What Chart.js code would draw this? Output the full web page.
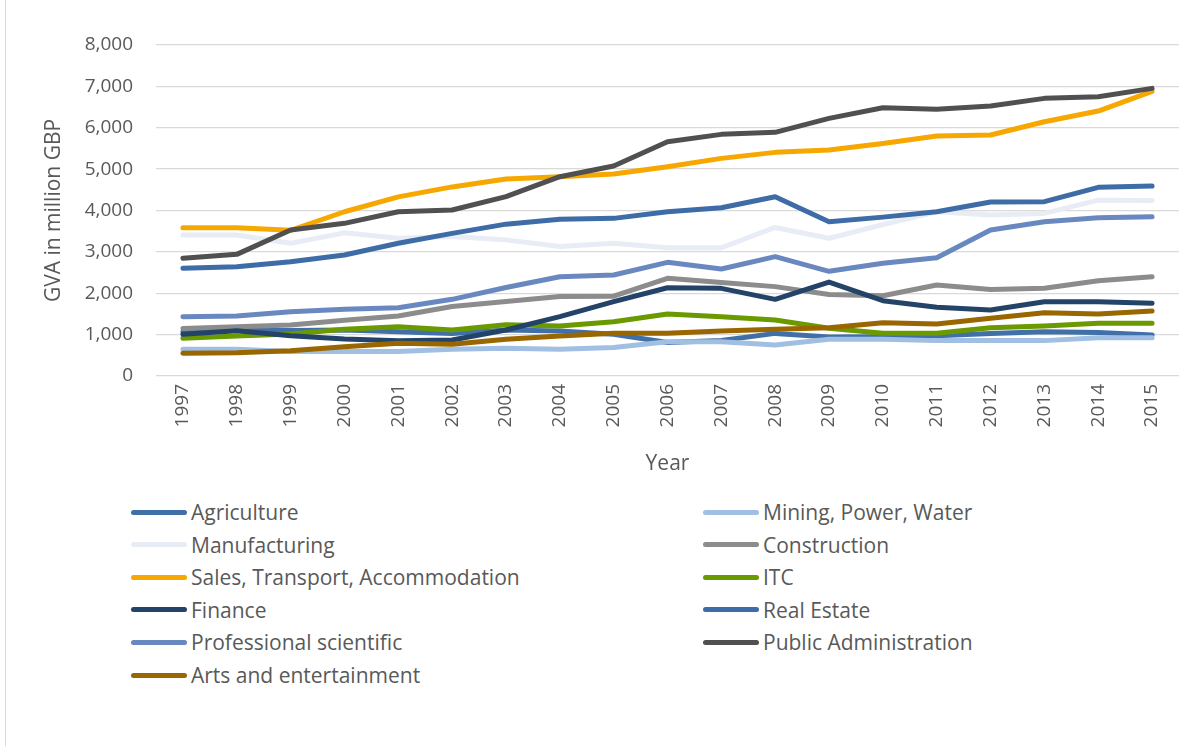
<!DOCTYPE html>
<html>
<head>
<meta charset="utf-8">
<script src="https://cdn.jsdelivr.net/npm/chart.js@4/dist/chart.umd.min.js"></script>
<style>
  html, body { margin: 0; padding: 0; background: #fff; }
  #wrap { position: relative; width: 1203px; height: 746px; overflow: hidden; font-family: "Open Sans", sans-serif; }
  #frame { position: absolute; left: 5px; top: 0; width: 1px; height: 746px; background: #d9d9d9; }
  #c { position: absolute; left: 0; top: 0; }
  .lg { position: absolute; height: 30px; display: flex; align-items: center; font-size: 21px; color: #595959; white-space: nowrap; }
  .lg span.sw { display: inline-block; width: 56px; height: 5px; border-radius: 3px; margin-right: 4px; }
</style>
</head>
<body>
<div id="wrap">
  <div id="frame"></div>
  <canvas id="c" width="1203" height="490"></canvas>
  <div id="legend"></div>
</div>
<script>
const years = ["1997","1998","1999","2000","2001","2002","2003","2004","2005","2006","2007","2008","2009","2010","2011","2012","2013","2014","2015"];
const yTicks = [0,1000,2000,3000,4000,5000,6000,7000,8000];

const agriculture   = [1070,1100,1100,1110,1070,1030,1110,1090,1010,810,860,1030,940,950,970,1030,1070,1050,990];
const mining        = [645,645,590,590,590,645,670,645,690,830,830,750,890,890,855,855,855,925,925];
const manufacturing = [3410,3410,3210,3460,3330,3370,3290,3130,3210,3100,3100,3590,3330,3660,3970,3890,3930,4250,4240];
const construction  = [1150,1190,1230,1350,1450,1680,1800,1920,1930,2360,2260,2160,1970,1940,2200,2090,2120,2300,2400];
const sales         = [3585,3585,3520,3970,4330,4570,4760,4817,4880,5058,5260,5405,5461,5620,5800,5824,6146,6404,6880];
const itc           = [910,967,1015,1128,1192,1112,1240,1208,1313,1498,1434,1353,1152,1031,1031,1168,1208,1273,1273];
const finance       = [1007,1095,975,894,853,870,1112,1434,1796,2134,2119,1853,2270,1820,1660,1595,1796,1796,1757];
const realEstate    = [2602,2642,2763,2924,3207,3448,3670,3786,3810,3971,4068,4334,3730,3840,3971,4205,4213,4560,4591];
const professional  = [1434,1450,1554,1611,1651,1853,2140,2400,2441,2747,2586,2884,2530,2723,2860,3528,3730,3826,3850];
const publicAdmin   = [2844,2940,3528,3690,3971,4012,4334,4817,5075,5663,5840,5889,6227,6485,6445,6525,6710,6750,6952];
const arts          = [548,564,612,709,790,766,887,967,1031,1031,1087,1128,1168,1289,1257,1394,1530,1498,1571];

const seriesNames  = ["Agriculture","Mining, Power, Water","Manufacturing","Construction","Sales, Transport, Accommodation","ITC","Finance","Real Estate","Professional scientific","Public Administration","Arts and entertainment"];
const seriesValues = [agriculture, mining, manufacturing, construction, sales, itc, finance, realEstate, professional, publicAdmin, arts];
const seriesColors = ["#4170a8","#a0bfe2","#e8ecf5","#8c8c8c","#f7a800","#6b9900","#234468","#3e6ca7","#6a88c0","#505050","#996600"];

const FONT = '"Open Sans", sans-serif';
const datasets = seriesNames.map((n, i) => ({
  label: n,
  data: seriesValues[i],
  borderColor: seriesColors[i],
  backgroundColor: seriesColors[i],
  borderWidth: 5,
  pointRadius: 0,
  pointHoverRadius: 0,
  tension: 0,
  fill: false,
  borderCapStyle: 'round',
  borderJoinStyle: 'round',
  order: seriesNames.length - i
}));

new Chart(document.getElementById('c'), {
  type: 'line',
  data: { labels: years, datasets },
  options: {
    responsive: false,
    animation: false,
    events: [],
    layout: { padding: { left: 0, right: 24, top: 45, bottom: 0 } },
    plugins: { legend: { display: false }, tooltip: { enabled: false } },
    scales: {
      x: {
        offset: true,
        grid: { display: false, drawTicks: false },
        border: { display: false },
        ticks: { color: '#595959', font: { family: FONT, size: 19 }, minRotation: 90, maxRotation: 90, autoSkip: false, padding: 8 },
        title: { display: true, text: 'Year', color: '#595959', font: { family: FONT, size: 21 }, padding: { top: 0, bottom: 13 } },
        afterFit: s => { s.height = 114; }
      },
      y: {
        min: 0, max: 8000,
        afterBuildTicks: s => { s.ticks = yTicks.map(v => ({ value: v })); },
        grid: { color: '#d9d9d9', lineWidth: 1.3, drawTicks: false },
        border: { display: false },
        ticks: { color: '#595959', font: { family: FONT, size: 19 }, padding: 23,
                 callback: v => v.toLocaleString('en-US') },
        title: { display: true, text: 'GVA in million GBP', color: '#595959', font: { family: FONT, size: 21 }, padding: { top: 41, bottom: 0 } },
        afterFit: s => { s.width = 156; }
      }
    }
  }
});

const legend = document.getElementById('legend');
seriesNames.forEach((n, i) => {
  const col = i % 2, row = Math.floor(i / 2);
  const d = document.createElement('div');
  d.className = 'lg';
  d.style.left = (col === 0 ? 131 : 703) + 'px';
  d.style.top = (497 + row * 32.6) + 'px';
  d.innerHTML = '<span class="sw" style="background:' + seriesColors[i] + '"></span>';
  d.appendChild(document.createTextNode(n));
  legend.appendChild(d);
});
</script>
</body>
</html>
